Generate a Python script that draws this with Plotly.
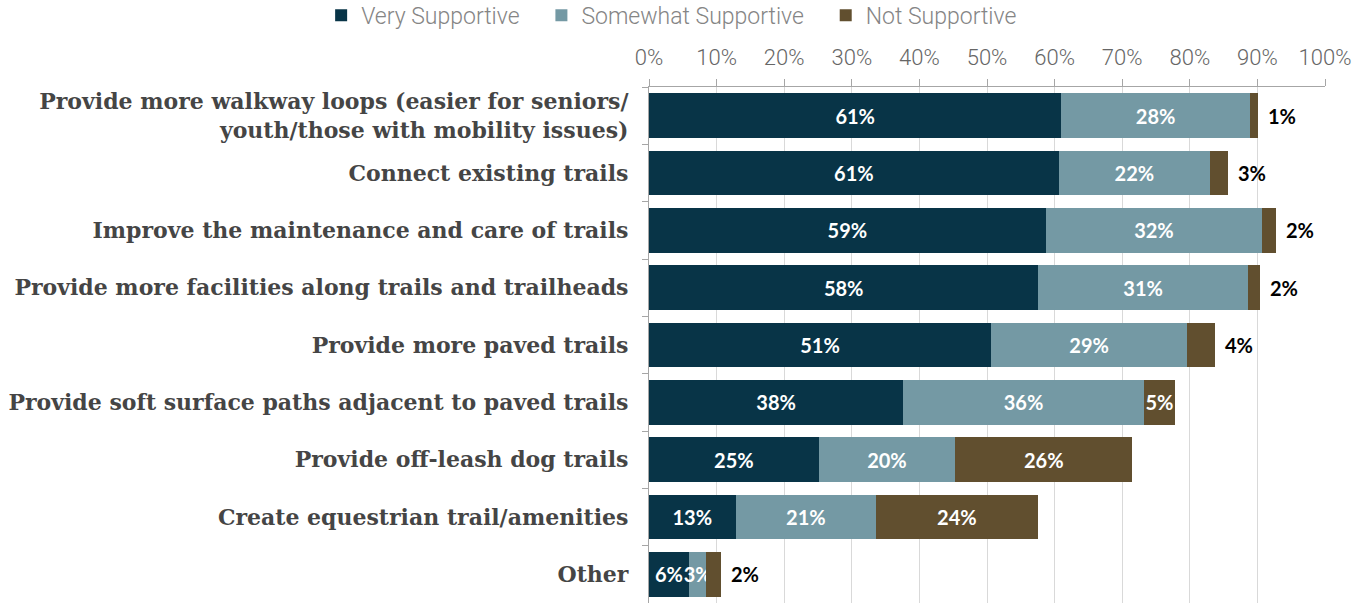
import plotly.graph_objects as go

# Survey: support for trail improvements (share of respondents, %)
categories = [
    "Provide more walkway loops (easier for seniors/<br>youth/those with mobility issues)",
    "Connect existing trails",
    "Improve the maintenance and care of trails",
    "Provide more facilities along trails and trailheads",
    "Provide more paved trails",
    "Provide soft surface paths adjacent to paved trails",
    "Provide off-leash dog trails",
    "Create equestrian trail/amenities",
    "Other",
]
series_names = ["Very Supportive", "Somewhat Supportive", "Not Supportive"]
very_supportive = [61.0, 60.6, 58.7, 57.6, 50.6, 37.6, 25.1, 12.8, 5.9]
somewhat_supportive = [27.9, 22.4, 32.0, 31.0, 29.0, 35.6, 20.2, 20.8, 2.6]
not_supportive = [1.2, 2.6, 2.0, 1.8, 4.1, 4.6, 26.2, 23.9, 2.2]
x_ticks = list(range(0, 101, 10))
x_tick_labels = [f"{v}%" for v in x_ticks]

C_VERY = "#083447"
C_SOME = "#7499a4"
C_NOT = "#614f2f"
LABEL_FAMILY = "Lato, 'Open Sans', sans-serif"
LIGHT_FAMILY = "Roboto, 'Liberation Sans', sans-serif"
LABEL_FONT = dict(family=LABEL_FAMILY, size=20, color="white", weight="bold")

# non-breaking spaces widen the gap between legend entries
PAD = "\u00a0" * 3
legend_names = [series_names[0] + PAD, series_names[1] + PAD, series_names[2]]

fig = go.Figure()

common = dict(
    orientation="h", textposition="inside", insidetextanchor="middle",
    textangle=0, constraintext="none", textfont=LABEL_FONT, hoverinfo="skip",
)

fig.add_trace(go.Bar(
    name=legend_names[0], y=categories, x=very_supportive,
    marker=dict(color=C_VERY, line=dict(width=0)),
    texttemplate="%{x:.0f}%", **common,
))
fig.add_trace(go.Bar(
    name=legend_names[1], y=categories, x=somewhat_supportive,
    marker=dict(color=C_SOME, line=dict(width=0)),
    texttemplate="%{x:.0f}%", **common,
))

# Wide segments carry their label inside; narrow ones get it beside the bar end
inside_min = 4.5
not_text = [f"{v:.0f}%" if v >= inside_min else "" for v in not_supportive]
fig.add_trace(go.Bar(
    name=legend_names[2], y=categories, x=not_supportive,
    marker=dict(color=C_NOT, line=dict(width=0)),
    text=not_text, texttemplate="%{text}", **common,
))

for cat, a, b, c in zip(categories, very_supportive, somewhat_supportive, not_supportive):
    if c < inside_min:
        fig.add_annotation(
            x=a + b + c, y=cat, xref="x", yref="y", text=f"{c:.0f}%",
            showarrow=False, xanchor="left", xshift=8,
            font=dict(family=LABEL_FAMILY, size=20, color="black", weight="bold"),
        )

fig.update_layout(
    width=1358, height=603,
    margin=dict(l=649, r=33, t=87, b=0, autoexpand=False),
    barmode="stack", bargap=0.22,
    plot_bgcolor="white", paper_bgcolor="white",
    showlegend=True,
    legend=dict(
        orientation="h", xref="paper", yref="paper",
        x=-0.485, xanchor="left", y=1.139, yanchor="middle",
        font=dict(family=LIGHT_FAMILY, size=23, color="#858585", weight=300),
        traceorder="normal",
    ),
    xaxis=dict(
        side="top", range=[0, 100], tickvals=x_ticks, ticktext=x_tick_labels,
        showgrid=True, gridcolor="#d9d9d9", gridwidth=1.3,
        showline=True, linecolor="#a6a6a6", linewidth=1.3,
        ticks="outside", ticklen=7, tickcolor="#a6a6a6", ticklabelstandoff=5,
        tickfont=dict(family=LIGHT_FAMILY, size=22, color="#666666", weight=300),
        zeroline=False, fixedrange=True,
    ),
    yaxis=dict(
        autorange="reversed", type="category", tickson="boundaries",
        showline=True, linecolor="#a6a6a6", linewidth=1.3,
        ticks="outside", ticklen=6, tickcolor="#a6a6a6", ticklabelstandoff=15,
        tickfont=dict(family="'DejaVu Serif', serif", size=22, color="#454545", weight="bold"),
        showgrid=False, fixedrange=True,
    ),
)

fig.write_html("out.html")
